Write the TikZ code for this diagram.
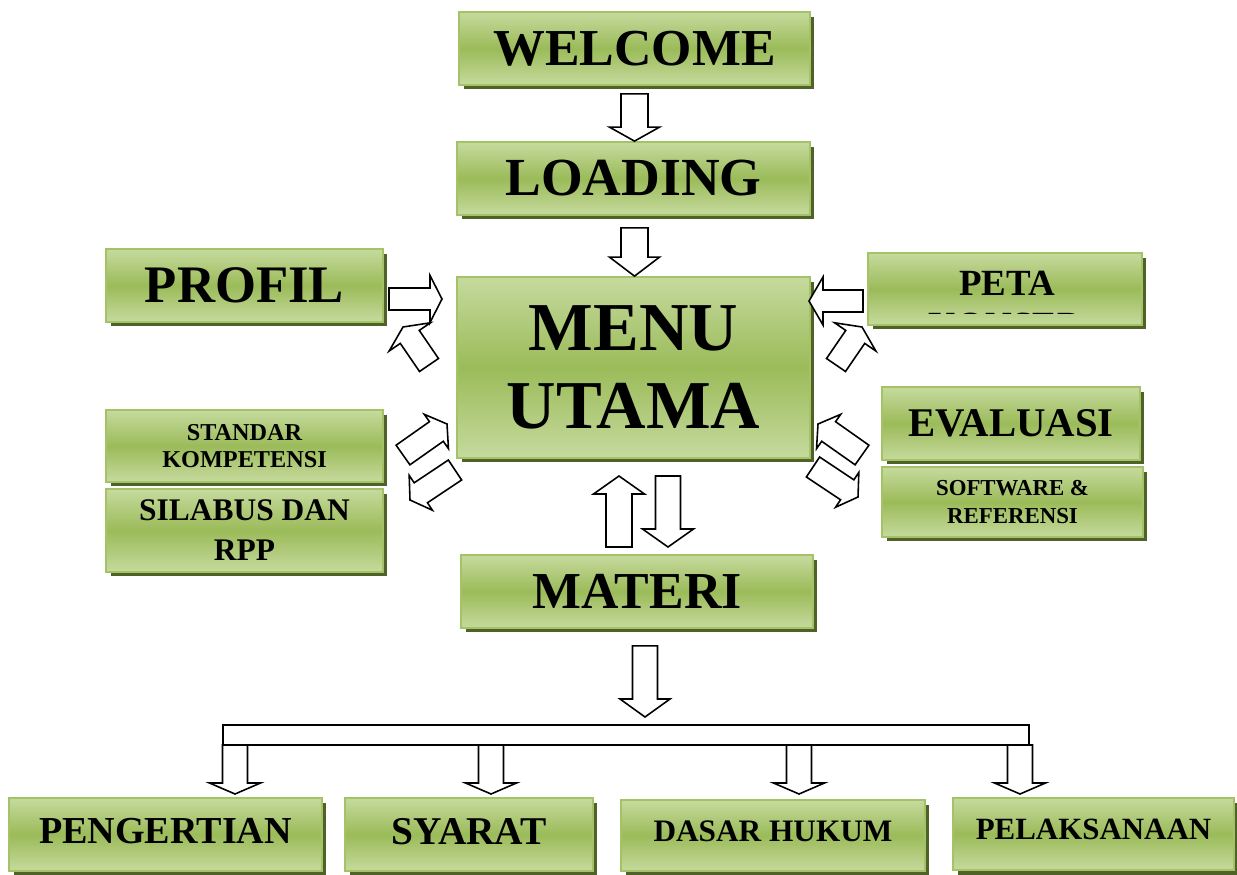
\documentclass[tikz,border=0pt]{standalone}
\usepackage{fontspec}
\setmainfont{Liberation Serif}
\usetikzlibrary{calc,shadows}

\definecolor{boxlight}{HTML}{C6DA9E}
\definecolor{boxmid}{HTML}{9BBB59}
\definecolor{boxedge}{HTML}{A4C266}
\definecolor{boxshadow}{HTML}{4F6228}

% block arrow: start, tip, shaft half width, head half width, head length
\newcommand{\blockarrow}[5]{%
  \coordinate (ba-s) at #1;
  \coordinate (ba-e) at #2;
  \coordinate (ba-h) at ($(ba-e)!#5!(ba-s)$);
  \draw[blockline] ($(ba-s)!#3!90:(ba-e)$) -- ($(ba-h)!#3!90:(ba-e)$)
    -- ($(ba-h)!#4!90:(ba-e)$) -- (ba-e) -- ($(ba-h)!#4!-90:(ba-e)$)
    -- ($(ba-h)!#3!-90:(ba-e)$) -- ($(ba-s)!#3!-90:(ba-e)$) -- cycle;
}

\begin{document}
\begin{tikzpicture}[
  x=0.02cm, y=-0.02cm,
  box/.style={draw=boxedge, line width=1pt, top color=boxlight, bottom color=boxlight, middle color=boxmid,
    drop shadow={shadow xshift=0.09cm, shadow yshift=-0.09cm, fill=boxshadow, opacity=1},
    align=center, inner sep=0pt},
  blockline/.style={draw=black, fill=white, line width=0.9pt, line join=miter}
]
  \useasboundingbox (0,0) rectangle (1237,875);

  % Welcome and loading
  \node[box, minimum width=7.02cm, minimum height=1.46cm, font={\bfseries\fontsize{29.5}{33}\selectfont}] (welcome) at (634.5,48.5) {WELCOME};
  \node[box, minimum width=7.06cm, minimum height=1.46cm, font={\bfseries\fontsize{30.5}{34}\selectfont}] (loading) at (633.5,178.5) {LOADING};

  % Main menu
  \node[box, minimum width=7.06cm, minimum height=3.62cm, font={\bfseries\fontsize{39}{44.4}\selectfont}] (menu) at (633.5,367.5) {MENU\\UTAMA};

  % Left side
  \node[box, minimum width=5.54cm, minimum height=1.46cm, font={\bfseries\fontsize{30}{34}\selectfont}] (profil) at (244.5,285.5) {PROFIL};
  \node[box, minimum width=5.54cm, minimum height=1.44cm, font={\bfseries\fontsize{13.8}{15.4}\selectfont}] (standar) at (244.5,446) {STANDAR\\KOMPETENSI};
  \node[box, minimum width=5.54cm, minimum height=1.66cm, font={\bfseries\fontsize{17.9}{22.8}\selectfont}] (silabus) at (244.5,530.5) {SILABUS DAN\\RPP};

  % Right side
  \node[box, minimum width=5.48cm, minimum height=1.44cm] (peta) at (1005,289) {};
  \node[font={\bfseries\fontsize{21}{24}\selectfont}, anchor=base] (petalbl) at (1007,295) {PETA};
  \begin{scope}
    \clip (869,254) rectangle (1141,313);
    \node[font={\bfseries\fontsize{21}{24}\selectfont}, anchor=base] (konsep) at (1004,337) {KONSEP};
  \end{scope}
  \node[box, minimum width=5.16cm, minimum height=1.46cm, font={\bfseries\fontsize{23.2}{26}\selectfont}] (evaluasi) at (1011,423.5) {EVALUASI};
  \node[box, minimum width=5.22cm, minimum height=1.40cm, font={\bfseries\fontsize{13}{16}\selectfont}] (software) at (1012.5,502) {SOFTWARE \&\\REFERENSI};

  % Materi
  \node[box, minimum width=7.04cm, minimum height=1.46cm, font={\bfseries\fontsize{29.5}{33}\selectfont}] (materi) at (637,591.5) {MATERI};

  % Sub materi
  \node[box, minimum width=6.26cm, minimum height=1.46cm, text depth=0.16cm, font={\bfseries\fontsize{21.7}{25}\selectfont}] (pengertian) at (165.5,834.5) {PENGERTIAN};
  \node[box, minimum width=4.96cm, minimum height=1.46cm, text depth=0.12cm, font={\bfseries\fontsize{22.4}{25}\selectfont}] (syarat) at (469,834.5) {SYARAT};
  \node[box, minimum width=6.08cm, minimum height=1.42cm, text depth=0.16cm, font={\bfseries\fontsize{17.8}{21}\selectfont}] (dasar) at (773,835.5) {DASAR HUKUM};
  \node[box, minimum width=5.62cm, minimum height=1.44cm, text depth=0.2cm, font={\bfseries\fontsize{17.6}{21}\selectfont}] (pelaksanaan) at (1093.5,834) {PELAKSANAAN};

  % Arrows
  \blockarrow{($(welcome.south)+(0,8)$)}{($(loading.north)+(1,0)$)}{0.27cm}{0.5cm}{0.28cm}
  \blockarrow{($(loading.south)+(1,12)$)}{($(menu.north)+(1,0)$)}{0.27cm}{0.5cm}{0.38cm}

  \blockarrow{(389,299)}{(442,299)}{0.22cm}{0.47cm}{0.24cm}
  \blockarrow{(429,365)}{(403,327)}{0.23cm}{0.5cm}{0.24cm}
  \blockarrow{(403,455)}{(447,424)}{0.24cm}{0.42cm}{0.26cm}
  \blockarrow{(455,470)}{(410,500)}{0.24cm}{0.42cm}{0.26cm}

  \blockarrow{(863,301)}{(809,301)}{0.22cm}{0.48cm}{0.28cm}
  \blockarrow{(836,365)}{(862,327)}{0.23cm}{0.5cm}{0.24cm}
  \blockarrow{(862,455)}{(818,424)}{0.24cm}{0.42cm}{0.26cm}
  \blockarrow{(813,467)}{(858,497)}{0.24cm}{0.42cm}{0.26cm}

  \blockarrow{(619,547)}{(619,476)}{0.26cm}{0.51cm}{0.36cm}
  \blockarrow{(668,476)}{(668,547)}{0.25cm}{0.51cm}{0.36cm}

  \blockarrow{($(materi.south)+(8,17)$)}{(645,717)}{0.25cm}{0.5cm}{0.36cm}

  % Bar
  \coordinate (bar-nw) at (223,725);
  \coordinate (bar-se) at (1029,745);
  \draw[blockline] (bar-nw) rectangle (bar-se);
  \foreach \bx in {235,491,799,1020}{
    \blockarrow{(\bx,745)}{(\bx,794)}{0.25cm}{0.51cm}{0.22cm}
  }
\end{tikzpicture}
\end{document}
